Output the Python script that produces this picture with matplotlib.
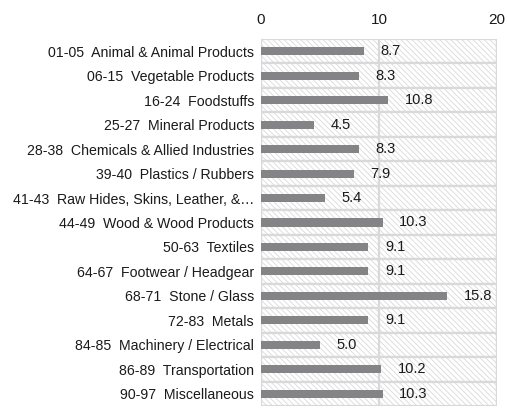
import numpy as np
import matplotlib
matplotlib.use("Agg")
import matplotlib.pyplot as plt

plt.rcParams['font.family'] = ['Liberation Sans', 'DejaVu Sans']
plt.rcParams['hatch.color'] = '#d4d4d4'
plt.rcParams['hatch.linewidth'] = 0.6

categories = ["01-05  Animal & Animal Products",
              "06-15  Vegetable Products",
              "16-24  Foodstuffs",
              "25-27  Mineral Products",
              "28-38  Chemicals & Allied Industries",
              "39-40  Plastics / Rubbers",
              "41-43  Raw Hides, Skins, Leather, &\u2026",
              "44-49  Wood & Wood Products",
              "50-63  Textiles",
              "64-67  Footwear / Headgear",
              "68-71  Stone / Glass",
              "72-83  Metals",
              "84-85  Machinery / Electrical",
              "86-89  Transportation",
              "90-97  Miscellaneous"]
values = [8.7, 8.3, 10.8, 4.5, 8.3, 7.9, 5.4, 10.3, 9.1, 9.1, 15.8, 9.1, 5.0, 10.2, 10.3]
xmax = 20

fig = plt.figure(figsize=(5.08, 4.08), dpi=100)
ax = fig.add_axes([261/508, 2/408, 236/508, 367/408])

y = np.arange(len(categories))
# hatched background bands
ax.barh(y, [xmax]*len(y), height=1.0, color='white', hatch='\\\\\\\\\\\\',
        edgecolor='#d9d9d9', linewidth=1.6, zorder=1)
ax.barh(y, values, height=0.33, color='#848486', zorder=3)

for yi, v in zip(y, values):
    ax.text(v + 1.4, yi, f"{v:.1f}", va='center', ha='left', fontsize=10.5, color='#1a1a1a', zorder=4)

for xv in [0, 10, 20]:
    ax.axvline(xv, color='#d9d9d9', lw=1.6, zorder=2)

ax.set_xlim(0, xmax)
ax.set_ylim(len(y) - 0.5, -0.5)
ax.set_xticks([0, 10, 20])
ax.xaxis.tick_top()
ax.set_yticks(y)
ax.set_yticklabels(categories)
ax.tick_params(axis='both', length=0, colors='#1a1a1a')
ax.tick_params(axis='x', pad=9, labelsize=11)
ax.tick_params(axis='y', pad=5, labelsize=10.2)
for s in ax.spines.values():
    s.set_visible(False)

plt.savefig("out.png", dpi=100)
